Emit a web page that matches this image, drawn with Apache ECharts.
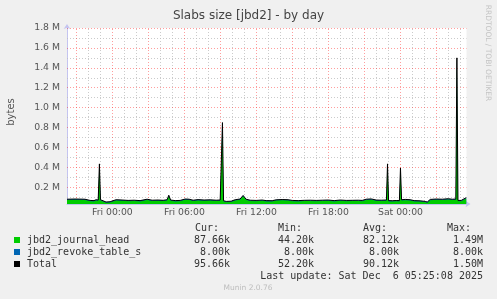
<!DOCTYPE html>
<html>
<head>
<meta charset="utf-8">
<script src="https://cdn.jsdelivr.net/npm/echarts@6/dist/echarts.min.js"></script>
<style>
html,body{margin:0;padding:0;background:#F0F0F0;}
#chart{width:497px;height:299px;}
</style>
</head>
<body>
<div id="chart"></div>
<script>
// hours relative to Fri 00:00
const hours = [-3.78,-3.11,-2.28,-1.86,-1.53,-1.36,-1.18,-1.08,-0.99,-0.86,-0.53,-0.19,-0.03,0.31,0.81,1.31,1.81,2.31,2.89,3.31,3.81,4.23,4.56,4.70,4.85,5.23,5.64,6.06,6.39,6.73,7.14,7.64,8.14,8.64,8.98,9.08,9.17,9.26,9.48,9.89,10.23,10.64,10.89,11.14,11.48,11.98,12.48,12.81,13.31,13.64,14.14,14.64,14.98,15.48,15.98,16.48,16.98,17.48,17.98,18.48,18.98,19.48,19.98,20.48,20.81,21.14,21.56,21.98,22.39,22.83,22.92,23.01,23.31,23.64,23.91,24.0,24.09,24.39,24.81,25.14,25.64,26.06,26.23,26.48,26.98,27.48,27.98,28.31,28.61,28.70,28.79,29.06,29.48];
// Total in kB
const totalK = [80,82,80,68,66,75,72,435,75,60,52,55,70,75,72,68,70,66,80,70,72,69,75,120,72,66,68,82,80,70,76,72,74,70,72,72,850,65,58,60,75,82,118,80,70,68,72,66,65,74,77,75,68,66,69,70,68,70,72,66,72,68,69,70,68,80,83,72,70,72,435,66,65,67,66,394,75,78,75,66,64,58,52,78,82,80,85,80,82,1500,68,68,96];
// jbd2_revoke_table_s is constant 8.00k
const revokeK = 8;
const journalK = totalK.map(v => v - revokeK);

const xTickValues = [0, 6, 12, 18, 24];
const xTickLabels = ['Fri 00:00', 'Fri 06:00', 'Fri 12:00', 'Fri 18:00', 'Sat 00:00'];
const yTickValues = [200, 400, 600, 800, 1000, 1200, 1400, 1600, 1800];
const yTickLabels = ['0.2 M', '0.4 M', '0.6 M', '0.8 M', '1.0 M', '1.2 M', '1.4 M', '1.6 M', '1.8 M'];

const xMajorGrid = [-3, 0, 3, 6, 9, 12, 15, 18, 21, 24, 27];
const xMinorGrid = [-2, -1, 1, 2, 4, 5, 7, 8, 10, 11, 13, 14, 16, 17, 19, 20, 22, 23, 25, 26, 28, 29];
const yMajorGrid = [200, 400, 600, 800, 1000, 1200, 1400, 1600, 1800];
const yMinorGrid = [100, 300, 500, 700, 900, 1100, 1300, 1500, 1700];

const legendNames = ['jbd2_journal_head', 'jbd2_revoke_table_s', 'Total'];
const legendColors = ['#00CC00', '#0066B3', '#000000'];
const curVals = ['87.66k', '8.00k', '95.66k'];
const minVals = ['44.20k', '8.00k', '52.20k'];
const avgVals = ['82.12k', '8.00k', '90.12k'];
const maxVals = ['1.49M', '8.00k', '1.50M'];

const chart = echarts.init(document.getElementById('chart'), null, {renderer: 'canvas'});

const MONO = '10px "DejaVu Sans Mono", monospace';

const minorLines = [];
xMinorGrid.forEach(v => minorLines.push({xAxis: v}));
yMinorGrid.forEach(v => minorLines.push({yAxis: v}));
const majorLines = [];
xMajorGrid.forEach(v => majorLines.push({xAxis: v}));
yMajorGrid.forEach(v => majorLines.push({yAxis: v}));

const graphic = [
  {type: 'text', left: 'center', top: 10, style: {text: 'Slabs size [jbd2] - by day', font: '12px "DejaVu Sans"', fill: '#444'}},
  {type: 'text', x: 11, y: 112, rotation: Math.PI / 2, style: {text: 'bytes', x: 0, y: 0, font: '10px "DejaVu Sans"', fill: '#555', textAlign: 'center', textVerticalAlign: 'middle'}},
  {type: 'text', x: 488, y: 53, rotation: -Math.PI / 2, style: {text: 'RRDTOOL / TOBI OETIKER', x: 0, y: 0, font: '7.5px "DejaVu Sans"', fill: '#c4c4c4', textAlign: 'center', textVerticalAlign: 'middle'}},
  {type: 'text', style: {text: 'Cur:', x: 195, y: 228, font: MONO, fill: '#333', textAlign: 'left', textVerticalAlign: 'middle'}},
  {type: 'text', style: {text: 'Min:', x: 278, y: 228, font: MONO, fill: '#333', textAlign: 'left', textVerticalAlign: 'middle'}},
  {type: 'text', style: {text: 'Avg:', x: 363, y: 228, font: MONO, fill: '#333', textAlign: 'left', textVerticalAlign: 'middle'}},
  {type: 'text', style: {text: 'Max:', x: 447, y: 228, font: MONO, fill: '#333', textAlign: 'left', textVerticalAlign: 'middle'}},
  {type: 'text', style: {text: 'Last update: Sat Dec  6 05:25:08 2025', x: 483, y: 276, font: MONO, fill: '#333', textAlign: 'right', textVerticalAlign: 'middle'}},
  {type: 'text', style: {text: 'Munin 2.0.76', x: 248, y: 288, font: '7.5px "DejaVu Sans"', fill: '#bdbdbd', textAlign: 'center', textVerticalAlign: 'middle'}}
];
legendNames.forEach((name, i) => {
  const y = 240 + i * 12;
  graphic.push({type: 'rect', shape: {x: 14, y: y - 3, width: 6, height: 6}, style: {fill: legendColors[i]}});
  graphic.push({type: 'text', style: {text: name, x: 27, y: y, font: MONO, fill: '#333', textAlign: 'left', textVerticalAlign: 'middle'}});
  graphic.push({type: 'text', style: {text: curVals[i], x: 230, y: y, font: MONO, fill: '#333', textAlign: 'right', textVerticalAlign: 'middle'}});
  graphic.push({type: 'text', style: {text: minVals[i], x: 314, y: y, font: MONO, fill: '#333', textAlign: 'right', textVerticalAlign: 'middle'}});
  graphic.push({type: 'text', style: {text: avgVals[i], x: 399, y: y, font: MONO, fill: '#333', textAlign: 'right', textVerticalAlign: 'middle'}});
  graphic.push({type: 'text', style: {text: maxVals[i], x: 483, y: y, font: MONO, fill: '#333', textAlign: 'right', textVerticalAlign: 'middle'}});
});

const axisLineStyle = {color: '#c4c4f0', width: 1};

chart.setOption({
  animation: false,
  backgroundColor: '#F0F0F0',
  grid: {left: 67, right: 30.5, top: 28, bottom: 95, show: true, backgroundColor: '#ffffff', borderWidth: 0},
  xAxis: {
    type: 'value', min: -3.78, max: 29.5,
    axisLine: {show: true, onZero: false, lineStyle: axisLineStyle, symbol: ['none', 'arrow'], symbolSize: [5, 5], symbolOffset: [0, 4]},
    axisTick: {show: false},
    splitLine: {show: false},
    axisLabel: {
      customValues: xTickValues,
      formatter: v => { const i = xTickValues.indexOf(v); return i >= 0 ? xTickLabels[i] : ''; },
      color: '#555', fontFamily: 'DejaVu Sans', fontSize: 9.3, margin: 4
    }
  },
  yAxis: {
    type: 'value', min: 32, max: 1800,
    axisLine: {show: true, onZero: false, lineStyle: axisLineStyle, symbol: ['none', 'arrow'], symbolSize: [5, 5], symbolOffset: [0, 4]},
    axisTick: {show: false},
    splitLine: {show: false},
    axisLabel: {
      customValues: yTickValues,
      formatter: v => { const i = yTickValues.indexOf(v); return i >= 0 ? yTickLabels[i] : ''; },
      color: '#555', fontFamily: 'DejaVu Sans', fontSize: 9.3, margin: 7
    }
  },
  graphic: graphic,
  series: [
    {
      type: 'line', data: [], z: 1, silent: true,
      markLine: {silent: true, z: 1, symbol: ['none', 'none'], label: {show: false}, animation: false,
        emphasis: {disabled: true},
        lineStyle: {color: 'rgba(190,190,190,0.8)', type: [1, 2], width: 1}, data: minorLines}
    },
    {
      type: 'line', data: [], z: 1, silent: true,
      markLine: {silent: true, z: 1, symbol: ['none', 'none'], label: {show: false}, animation: false,
        emphasis: {disabled: true},
        lineStyle: {color: 'rgba(255,40,40,0.45)', type: [1, 2], width: 1}, data: majorLines}
    },
    {
      name: 'jbd2_revoke_table_s', type: 'line', z: 2,
      data: hours.map((h, i) => [h, journalK[i] + revokeK]),
      symbol: 'none', lineStyle: {width: 0}, areaStyle: {color: '#0066B3', opacity: 1}
    },
    {
      name: 'jbd2_journal_head', type: 'line', z: 3,
      data: hours.map((h, i) => [h, journalK[i]]),
      symbol: 'none', lineStyle: {width: 0}, areaStyle: {color: '#00CC00', opacity: 1}
    },
    {
      name: 'Total', type: 'line', z: 4,
      data: hours.map((h, i) => [h, totalK[i]]),
      symbol: 'none', lineStyle: {width: 1, color: '#000000'}
    }
  ]
});
</script>
</body>
</html>
